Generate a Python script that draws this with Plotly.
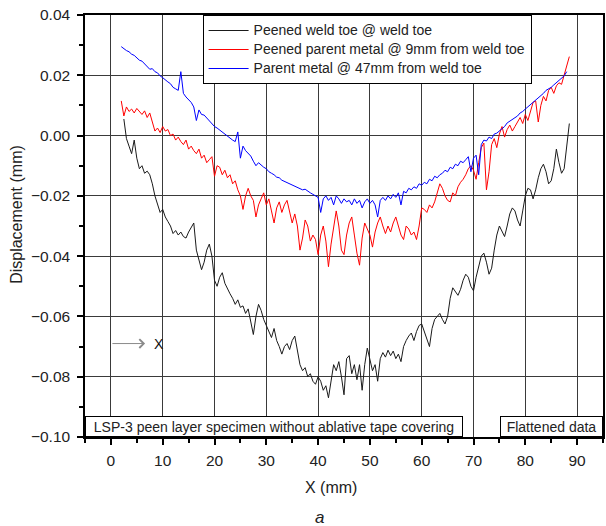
import plotly.graph_objects as go

# ---------------- data ----------------
toe_x = [2.5, 3.0, 3.5, 4.0, 4.5, 5.0, 5.5, 6.0, 6.5, 7.0, 7.5, 8.0, 8.5, 9.0, 9.5, 10.0,
         10.5, 11.0, 11.5, 12.0, 12.5, 13.0, 13.5, 14.0, 14.5, 15.0, 15.5, 16.0, 16.5, 17.0,
         17.5, 18.0, 18.5, 19.0, 19.5, 20.0, 20.5, 21.0, 21.5, 22.0, 22.5, 23.0, 23.5, 24.0,
         24.5, 25.0, 25.5, 26.0, 26.5, 27.0, 27.5, 28.0, 28.5, 29.0, 29.5, 30.0, 30.5, 31.0,
         31.5, 32.0, 32.5, 33.0, 33.5, 34.0, 34.5, 35.0, 35.5, 36.0, 36.5, 37.0, 37.5, 38.0,
         38.5, 39.0, 39.5, 40.0, 40.5, 41.0, 41.5, 42.0, 42.5, 43.0, 43.5, 44.0, 44.5, 45.0,
         45.5, 46.0, 46.5, 47.0, 47.5, 48.0, 48.5, 49.0, 49.5, 50.0, 50.5, 51.0, 51.5, 52.0,
         52.5, 53.0, 53.5, 54.0, 54.5, 55.0, 55.5, 56.0, 56.5, 57.0, 57.5, 58.0, 58.5, 59.0,
         59.5, 60.0, 60.5, 61.0, 61.5, 62.0, 62.5, 63.0, 63.5, 64.0, 64.5, 65.0, 65.5, 66.0,
         66.5, 67.0, 67.5, 68.0, 68.5, 69.0, 69.5, 70.0, 70.5, 71.0, 71.5, 72.0, 72.5, 73.0,
         73.5, 74.0, 74.5, 75.0, 75.5, 76.0, 76.5, 77.0, 77.5, 78.0, 78.5, 79.0, 79.5, 80.0,
         80.5, 81.0, 81.5, 82.0, 82.5, 83.0, 83.5, 84.0, 84.5, 85.0, 85.5, 86.0, 86.5, 87.0,
         87.5, 88.0, 88.5]
toe_y = [0.0055, -0.0010, -0.0035, -0.0060, -0.0015, -0.0075, -0.0110, -0.0100, -0.0125,
         -0.0118, -0.0130, -0.0160, -0.0200, -0.0230, -0.0255, -0.0245, -0.0270, -0.0285,
         -0.0300, -0.0325, -0.0315, -0.0330, -0.0320, -0.0335, -0.0340, -0.0320, -0.0305,
         -0.0290, -0.0380, -0.0410, -0.0445, -0.0420, -0.0380, -0.0360, -0.0400, -0.0480,
         -0.0500, -0.0470, -0.0455, -0.0490, -0.0510, -0.0525, -0.0540, -0.0560, -0.0545,
         -0.0570, -0.0565, -0.0590, -0.0575, -0.0620, -0.0660, -0.0600, -0.0560, -0.0580,
         -0.0610, -0.0630, -0.0650, -0.0670, -0.0640, -0.0680, -0.0700, -0.0725, -0.0700,
         -0.0690, -0.0710, -0.0680, -0.0665, -0.0720, -0.0760, -0.0780, -0.0770, -0.0800,
         -0.0790, -0.0815, -0.0825, -0.0800, -0.0815, -0.0845, -0.0830, -0.0870, -0.0820,
         -0.0760, -0.0780, -0.0750, -0.0800, -0.0860, -0.0740, -0.0730, -0.0790, -0.0760,
         -0.0810, -0.0760, -0.0845, -0.0760, -0.0705, -0.0740, -0.0780, -0.0760, -0.0815,
         -0.0740, -0.0720, -0.0735, -0.0712, -0.0730, -0.0715, -0.0740, -0.0725, -0.0750,
         -0.0700, -0.0680, -0.0665, -0.0655, -0.0680, -0.0650, -0.0630, -0.0625, -0.0650,
         -0.0680, -0.0700, -0.0640, -0.0610, -0.0600, -0.0590, -0.0610, -0.0625, -0.0600,
         -0.0540, -0.0505, -0.0520, -0.0530, -0.0510, -0.0480, -0.0460, -0.0470, -0.0500,
         -0.0515, -0.0470, -0.0430, -0.0400, -0.0390, -0.0420, -0.0460, -0.0440, -0.0380,
         -0.0330, -0.0300, -0.0320, -0.0335, -0.0300, -0.0260, -0.0240, -0.0250, -0.0280,
         -0.0300, -0.0250, -0.0200, -0.0175, -0.0180, -0.0210, -0.0180, -0.0140, -0.0110,
         -0.0095, -0.0120, -0.0160, -0.0150, -0.0110, -0.0045, -0.0090, -0.0125, -0.0110,
         -0.0030, 0.0040]

parent9_x = [2.0, 2.5, 3.0, 3.5, 4.0, 4.5, 5.0, 5.5, 6.0, 6.5, 7.0, 7.5, 8.0, 8.5, 9.0, 9.5,
             10.0, 10.5, 11.0, 11.5, 12.0, 12.5, 13.0, 13.5, 14.0, 14.5, 15.0, 15.5, 16.0,
             16.5, 17.0, 17.5, 18.0, 18.5, 19.0, 19.5, 20.0, 20.5, 21.0, 21.5, 22.0, 22.5,
             23.0, 23.5, 24.0, 24.5, 25.0, 25.5, 26.0, 26.5, 27.0, 27.5, 28.0, 28.5, 29.0,
             29.5, 30.0, 30.5, 31.0, 31.5, 32.0, 32.5, 33.0, 33.5, 34.0, 34.5, 35.0, 35.5,
             36.0, 36.5, 37.0, 37.5, 38.0, 38.5, 39.0, 39.5, 40.0, 40.5, 41.0, 41.5, 42.0,
             42.5, 43.0, 43.5, 44.0, 44.5, 45.0, 45.5, 46.0, 46.5, 47.0, 47.5, 48.0, 48.5,
             49.0, 49.5, 50.0, 50.5, 51.0, 51.5, 52.0, 52.5, 53.0, 53.5, 54.0, 54.5, 55.0,
             55.5, 56.0, 56.5, 57.0, 57.5, 58.0, 58.5, 59.0, 59.5, 60.0, 60.5, 61.0, 61.5,
             62.0, 62.5, 63.0, 63.5, 64.0, 64.5, 65.0, 65.5, 66.0, 66.5, 67.0, 67.5, 68.0,
             68.5, 69.0, 69.5, 70.0, 70.5, 71.0, 71.5, 72.0, 72.5, 73.0, 73.5, 74.0, 74.5,
             75.0, 75.5, 76.0, 76.5, 77.0, 77.5, 78.0, 78.5, 79.0, 79.5, 80.0, 80.5, 81.0,
             81.5, 82.0, 82.5, 83.0, 83.5, 84.0, 84.5, 85.0, 85.5, 86.0, 86.5, 87.0, 87.5,
             88.0, 88.5]
parent9_y = [0.0115, 0.0065, 0.0095, 0.0080, 0.0088, 0.0075, 0.0090, 0.0080, 0.0070, 0.0082,
             0.0060, 0.0075, 0.0040, 0.0015, 0.0025, 0.0010, 0.0030, 0.0015, 0.0020, 0.0000,
             0.0005, -0.0015, -0.0005, -0.0020, -0.0030, -0.0015, -0.0045, -0.0035, -0.0050,
             -0.0060, -0.0045, -0.0075, -0.0065, -0.0090, -0.0080, -0.0070, -0.0135, -0.0100,
             -0.0105, -0.0130, -0.0115, -0.0140, -0.0130, -0.0160, -0.0150, -0.0180, -0.0200,
             -0.0245, -0.0200, -0.0175, -0.0200, -0.0215, -0.0270, -0.0230, -0.0210, -0.0190,
             -0.0230, -0.0210, -0.0250, -0.0290, -0.0240, -0.0220, -0.0255, -0.0230, -0.0215,
             -0.0250, -0.0290, -0.0260, -0.0300, -0.0380, -0.0340, -0.0280, -0.0300, -0.0350,
             -0.0330, -0.0345, -0.0395, -0.0330, -0.0300, -0.0350, -0.0435, -0.0360, -0.0310,
             -0.0250, -0.0300, -0.0380, -0.0395, -0.0330, -0.0290, -0.0270, -0.0330, -0.0390,
             -0.0430, -0.0340, -0.0290, -0.0310, -0.0330, -0.0370, -0.0320, -0.0290, -0.0270,
             -0.0300, -0.0325, -0.0300, -0.0320, -0.0290, -0.0270, -0.0300, -0.0330, -0.0345,
             -0.0300, -0.0310, -0.0330, -0.0320, -0.0345, -0.0300, -0.0240, -0.0245, -0.0255,
             -0.0230, -0.0240, -0.0220, -0.0190, -0.0160, -0.0175, -0.0200, -0.0215, -0.0220,
             -0.0190, -0.0200, -0.0170, -0.0155, -0.0145, -0.0130, -0.0110, -0.0100, -0.0115,
             -0.0145, -0.0090, -0.0040, -0.0025, -0.0180, -0.0120, -0.0030, -0.0010, -0.0040,
             0.0005, 0.0030, -0.0005, 0.0020, 0.0035, 0.0015, 0.0030, 0.0045, 0.0060, 0.0040,
             0.0070, 0.0050, 0.0080, 0.0110, 0.0115, 0.0045, 0.0100, 0.0130, 0.0115, 0.0150,
             0.0160, 0.0140, 0.0165, 0.0175, 0.0170, 0.0200, 0.0230, 0.0262]

parent47_x = [2.0, 2.5, 3.0, 3.5, 4.0, 4.5, 5.0, 5.5, 6.0, 6.5, 7.0, 7.5, 8.0, 8.5, 9.0, 9.5,
              10.0, 10.5, 11.0, 11.5, 12.0, 12.5, 13.0, 13.5, 14.0, 14.5, 15.0, 15.5, 16.0,
              16.5, 17.0, 17.5, 18.0, 18.5, 19.0, 19.5, 20.0, 20.5, 21.0, 21.5, 22.0, 22.5,
              23.0, 23.5, 24.0, 24.5, 25.0, 25.5, 26.0, 26.5, 27.0, 27.5, 28.0, 28.5, 29.0,
              29.5, 30.0, 30.5, 31.0, 31.5, 32.0, 32.5, 33.0, 33.5, 34.0, 34.5, 35.0, 35.5,
              36.0, 36.5, 37.0, 37.5, 38.0, 38.5, 39.0, 39.5, 40.0, 40.5, 41.0, 41.5, 42.0,
              42.5, 43.0, 43.5, 44.0, 44.5, 45.0, 45.5, 46.0, 46.5, 47.0, 47.5, 48.0, 48.5,
              49.0, 49.5, 50.0, 50.5, 51.0, 51.5, 52.0, 52.5, 53.0, 53.5, 54.0, 54.5, 55.0,
              55.5, 56.0, 56.5, 57.0, 57.5, 58.0, 58.5, 59.0, 59.5, 60.0, 60.5, 61.0, 61.5,
              62.0, 62.5, 63.0, 63.5, 64.0, 64.5, 65.0, 65.5, 66.0, 66.5, 67.0, 67.5, 68.0,
              68.5, 69.0, 69.5, 70.0, 70.5, 71.0, 71.5, 72.0, 72.5, 73.0, 73.5, 74.0, 74.5,
              75.0, 75.5, 76.0, 76.5, 77.0, 77.5, 78.0, 78.5, 79.0, 79.5, 80.0, 80.5, 81.0,
              81.5, 82.0, 82.5, 83.0, 83.5, 84.0, 84.5, 85.0, 85.5, 86.0, 86.5, 87.0, 87.5,
              88.0]
parent47_y = [0.0295, 0.0288, 0.0282, 0.0278, 0.0270, 0.0266, 0.0258, 0.0250, 0.0247, 0.0238,
              0.0230, 0.0220, 0.0222, 0.0212, 0.0208, 0.0198, 0.0192, 0.0184, 0.0178, 0.0172,
              0.0160, 0.0155, 0.0150, 0.0212, 0.0140, 0.0128, 0.0118, 0.0110, 0.0095, 0.0050,
              0.0085, 0.0070, 0.0068, 0.0058, 0.0050, 0.0040, 0.0030, 0.0025, 0.0018, 0.0010,
              0.0005, -0.0003, -0.0010, -0.0015, -0.0020, 0.0012, -0.0075, -0.0035, -0.0050,
              -0.0060, -0.0068, -0.0085, -0.0100, -0.0090, -0.0098, -0.0105, -0.0110, -0.0120,
              -0.0125, -0.0130, -0.0138, -0.0140, -0.0148, -0.0152, -0.0155, -0.0160, -0.0163,
              -0.0168, -0.0172, -0.0175, -0.0180, -0.0178, -0.0185, -0.0190, -0.0195, -0.0200,
              -0.0205, -0.0255, -0.0210, -0.0200, -0.0215, -0.0205, -0.0230, -0.0200, -0.0210,
              -0.0225, -0.0210, -0.0220, -0.0215, -0.0230, -0.0210, -0.0225, -0.0215, -0.0240,
              -0.0220, -0.0210, -0.0225, -0.0215, -0.0230, -0.0270, -0.0215, -0.0205, -0.0215,
              -0.0200, -0.0210, -0.0195, -0.0205, -0.0190, -0.0230, -0.0185, -0.0190, -0.0175,
              -0.0180, -0.0170, -0.0175, -0.0160, -0.0165, -0.0155, -0.0160, -0.0145, -0.0150,
              -0.0135, -0.0140, -0.0130, -0.0125, -0.0115, -0.0120, -0.0105, -0.0110, -0.0095,
              -0.0100, -0.0085, -0.0090, -0.0080, -0.0070, -0.0120, -0.0075, -0.0065, -0.0130,
              -0.0030, -0.0015, -0.0018, -0.0005, -0.0010, 0.0005, 0.0008, 0.0015, 0.0025,
              0.0030, 0.0042, 0.0048, 0.0052, 0.0060, 0.0065, 0.0075, 0.0080, 0.0088, 0.0095,
              0.0105, 0.0112, 0.0118, 0.0125, 0.0132, 0.0140, 0.0150, 0.0155, 0.0160, 0.0168,
              0.0175, 0.0182, 0.0190, 0.0198, 0.0212]

series_names = ["Peened weld toe @ weld toe",
                "Peened parent metal @ 9mm from weld toe",
                "Parent metal @ 47mm from weld toe"]
series_colors = ["#1a1a1a", "#ff0000", "#0000ff"]

FONT = "Liberation Sans, Arial, Helvetica, sans-serif"

fig = go.Figure()
for xs, ys, name, col in zip([toe_x, parent9_x, parent47_x],
                             [toe_y, parent9_y, parent47_y],
                             series_names, series_colors):
    fig.add_trace(go.Scatter(x=xs, y=ys, mode="lines",
                             name='<span style="font-size:14px">' + name + '</span>',
                             line=dict(color=col, width=1)))

axis_common = dict(showline=True, linecolor="black", linewidth=1.5, mirror=True,
                   ticks="outside", tickcolor="black", tickwidth=1.5, ticklen=6,
                   showgrid=True, gridcolor="#3a3a3a", gridwidth=1.2, zeroline=False,
                   tickfont=dict(family=FONT, size=15.5, color="#222"))

fig.update_layout(
    width=606, height=526,
    margin=dict(l=85, r=1, t=15, b=89),
    paper_bgcolor="white", plot_bgcolor="white",
    font=dict(family=FONT, color="#222"),
    showlegend=True,
    legend=dict(x=0.227, y=1.0, xanchor="left", yanchor="top",
                bordercolor="black", borderwidth=1, bgcolor="white",
                font=dict(family=FONT, size=11, color="#222"),
                itemwidth=40, tracegroupgap=0),
    xaxis=dict(range=[-5, 95], tick0=0, dtick=10,
               minor=dict(ticks="outside", ticklen=4, dtick=5, tickcolor="black",
                          tickwidth=1.5, showgrid=False),
               ticklabelstandoff=3,
               **axis_common),
    yaxis=dict(range=[-0.10, 0.04], tick0=0, dtick=0.02, tickformat=".2f",
               minor=dict(ticks="outside", ticklen=4, dtick=0.01, tickcolor="black",
                          tickwidth=1.5, showgrid=False),
               ticklabelstandoff=4,
               **axis_common),
    xaxis2=dict(overlaying="x", side="top", anchor="y", range=[-5, 95], tick0=0, dtick=10,
                ticks="inside", ticklen=6, tickcolor="black", tickwidth=1.5,
                minor=dict(ticks="inside", ticklen=4, dtick=5, tickcolor="black",
                           tickwidth=1.5, showgrid=False),
                showticklabels=False, showgrid=False, zeroline=False, showline=False),
    yaxis2=dict(overlaying="y", side="right", anchor="x", range=[-0.10, 0.04], tick0=0,
                dtick=0.02, ticks="inside", ticklen=6, tickcolor="black", tickwidth=1.5,
                minor=dict(ticks="inside", ticklen=4, dtick=0.01, tickcolor="black",
                           tickwidth=1.5, showgrid=False),
                showticklabels=False, showgrid=False, zeroline=False, showline=False),
)

annotations = [
    dict(text="LSP-3 peen layer specimen without ablative tape covering",
         xref="x", yref="y", x=-5, y=-0.10, xanchor="left", yanchor="bottom",
         showarrow=False, bgcolor="white", bordercolor="black", borderwidth=1,
         borderpad=1, width=374, height=17, align="center",
         font=dict(family=FONT, size=14, color="#222")),
    dict(text="Flattened data",
         xref="x", yref="y", x=95, y=-0.10, xanchor="right", yanchor="bottom",
         showarrow=False, bgcolor="white", bordercolor="black", borderwidth=1,
         borderpad=1, width=99, height=17, align="center",
         font=dict(family=FONT, size=14, color="#222")),
    dict(text="", xref="x", yref="y", x=6.6, y=-0.069, axref="x", ayref="y",
         ax=0, ay=-0.069, showarrow=True, arrowhead=4, arrowsize=1.7,
         arrowwidth=1, arrowcolor="#8a8a8a"),
    dict(text="X", xref="x", yref="y", x=9.3, y=-0.069, showarrow=False,
         font=dict(family=FONT, size=14, color="#111")),
    dict(text="Displacement (mm)", xref="paper", yref="paper",
         x=-0.1327, y=0.527, textangle=-90, showarrow=False,
         xanchor="center", yanchor="middle",
         font=dict(family=FONT, size=16, color="#222")),
    dict(text="X (mm)", xref="paper", yref="paper", x=0.475, y=-0.1185,
         showarrow=False, xanchor="center", yanchor="middle",
         font=dict(family=FONT, size=16, color="#222")),
    dict(text="<i>a</i>", xref="paper", yref="paper", x=0.452, y=-0.1896,
         showarrow=False, xanchor="center", yanchor="middle",
         font=dict(family=FONT, size=17, color="#222")),
]
fig.update_layout(annotations=annotations)

fig.write_html("out.html")
